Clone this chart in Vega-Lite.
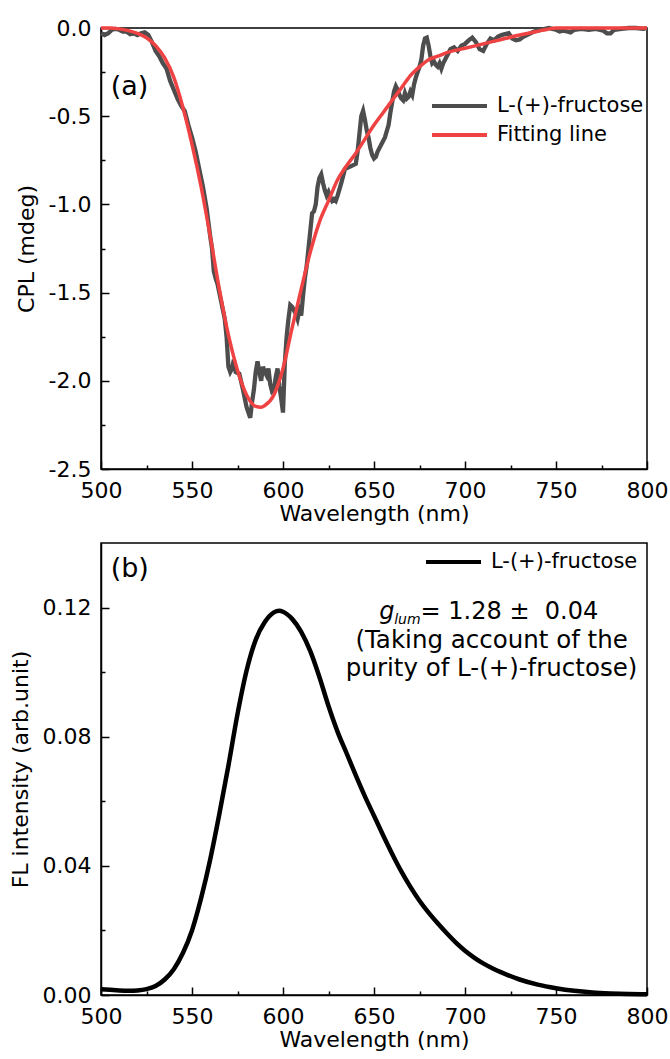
{
  "$schema": "https://vega.github.io/schema/vega-lite/v6.json",
  "background": "white",
  "padding": {"left": 8, "top": 16, "right": 0, "bottom": 0},
  "spacing": 17,
  "config": {
    "font": "DejaVu Sans",
    "view": {"stroke": "black", "strokeWidth": 1.5},
    "axis": {"domainColor": "black", "domainWidth": 1.5, "tickColor": "black", "tickWidth": 1.5, "labelColor": "black", "labelFont": "DejaVu Sans", "labelFontSize": 22, "titleFont": "DejaVu Sans", "titleFontSize": 22, "titleFontWeight": "normal", "titleColor": "black", "grid": false, "labelFlush": false, "labelOverlap": false, "labelBound": false},
    "legend": {"labelFont": "DejaVu Sans", "labelFontSize": 21, "labelColor": "black", "symbolType": "M-2.5,0H2.5", "symbolSize": 484, "symbolStrokeWidth": 4, "labelOffset": 24.5, "padding": 0, "rowPadding": 6}
  },
  "datasets": {
    "meas": [
      {"wl":500,"cpl":-0.03,"series":"L-(+)-fructose"},{"wl":502,"cpl":-0.04,"series":"L-(+)-fructose"},{"wl":504,"cpl":-0.03,"series":"L-(+)-fructose"},{"wl":506,"cpl":-0.01,"series":"L-(+)-fructose"},{"wl":508,"cpl":-0.005,"series":"L-(+)-fructose"},{"wl":510,"cpl":-0.01,"series":"L-(+)-fructose"},{"wl":512,"cpl":-0.02,"series":"L-(+)-fructose"},{"wl":514,"cpl":-0.02,"series":"L-(+)-fructose"},{"wl":516,"cpl":-0.035,"series":"L-(+)-fructose"},{"wl":518,"cpl":-0.03,"series":"L-(+)-fructose"},{"wl":520,"cpl":-0.04,"series":"L-(+)-fructose"},{"wl":522,"cpl":-0.03,"series":"L-(+)-fructose"},{"wl":524,"cpl":-0.025,"series":"L-(+)-fructose"},{"wl":526,"cpl":-0.04,"series":"L-(+)-fructose"},{"wl":528,"cpl":-0.08,"series":"L-(+)-fructose"},{"wl":530,"cpl":-0.13,"series":"L-(+)-fructose"},{"wl":532,"cpl":-0.16,"series":"L-(+)-fructose"},{"wl":534,"cpl":-0.2,"series":"L-(+)-fructose"},{"wl":536,"cpl":-0.23,"series":"L-(+)-fructose"},{"wl":538,"cpl":-0.3,"series":"L-(+)-fructose"},{"wl":540,"cpl":-0.35,"series":"L-(+)-fructose"},{"wl":542,"cpl":-0.4,"series":"L-(+)-fructose"},{"wl":544,"cpl":-0.44,"series":"L-(+)-fructose"},{"wl":546,"cpl":-0.47,"series":"L-(+)-fructose"},{"wl":548,"cpl":-0.55,"series":"L-(+)-fructose"},{"wl":550,"cpl":-0.62,"series":"L-(+)-fructose"},{"wl":552,"cpl":-0.7,"series":"L-(+)-fructose"},{"wl":554,"cpl":-0.8,"series":"L-(+)-fructose"},{"wl":556,"cpl":-0.9,"series":"L-(+)-fructose"},{"wl":558,"cpl":-1.02,"series":"L-(+)-fructose"},{"wl":560,"cpl":-1.18,"series":"L-(+)-fructose"},{"wl":561,"cpl":-1.25,"series":"L-(+)-fructose"},{"wl":562,"cpl":-1.38,"series":"L-(+)-fructose"},{"wl":563,"cpl":-1.42,"series":"L-(+)-fructose"},{"wl":564,"cpl":-1.45,"series":"L-(+)-fructose"},{"wl":566,"cpl":-1.55,"series":"L-(+)-fructose"},{"wl":568,"cpl":-1.65,"series":"L-(+)-fructose"},{"wl":569,"cpl":-1.75,"series":"L-(+)-fructose"},{"wl":570,"cpl":-1.92,"series":"L-(+)-fructose"},{"wl":571,"cpl":-1.95,"series":"L-(+)-fructose"},{"wl":572,"cpl":-1.93,"series":"L-(+)-fructose"},{"wl":573,"cpl":-1.88,"series":"L-(+)-fructose"},{"wl":574,"cpl":-1.95,"series":"L-(+)-fructose"},{"wl":576,"cpl":-1.96,"series":"L-(+)-fructose"},{"wl":578,"cpl":-2.05,"series":"L-(+)-fructose"},{"wl":580,"cpl":-2.15,"series":"L-(+)-fructose"},{"wl":581,"cpl":-2.18,"series":"L-(+)-fructose"},{"wl":582,"cpl":-2.21,"series":"L-(+)-fructose"},{"wl":583,"cpl":-2.12,"series":"L-(+)-fructose"},{"wl":584,"cpl":-2.05,"series":"L-(+)-fructose"},{"wl":585,"cpl":-1.95,"series":"L-(+)-fructose"},{"wl":586,"cpl":-1.89,"series":"L-(+)-fructose"},{"wl":587,"cpl":-1.95,"series":"L-(+)-fructose"},{"wl":588,"cpl":-2.0,"series":"L-(+)-fructose"},{"wl":589,"cpl":-1.92,"series":"L-(+)-fructose"},{"wl":590,"cpl":-1.95,"series":"L-(+)-fructose"},{"wl":591,"cpl":-1.97,"series":"L-(+)-fructose"},{"wl":592,"cpl":-1.93,"series":"L-(+)-fructose"},{"wl":593,"cpl":-2.02,"series":"L-(+)-fructose"},{"wl":594,"cpl":-2.06,"series":"L-(+)-fructose"},{"wl":595,"cpl":-2.05,"series":"L-(+)-fructose"},{"wl":596,"cpl":-1.98,"series":"L-(+)-fructose"},{"wl":597,"cpl":-1.93,"series":"L-(+)-fructose"},{"wl":598,"cpl":-2.03,"series":"L-(+)-fructose"},{"wl":599,"cpl":-2.1,"series":"L-(+)-fructose"},{"wl":600,"cpl":-2.18,"series":"L-(+)-fructose"},{"wl":601,"cpl":-1.9,"series":"L-(+)-fructose"},{"wl":602,"cpl":-1.75,"series":"L-(+)-fructose"},{"wl":603,"cpl":-1.65,"series":"L-(+)-fructose"},{"wl":604,"cpl":-1.57,"series":"L-(+)-fructose"},{"wl":605,"cpl":-1.58,"series":"L-(+)-fructose"},{"wl":606,"cpl":-1.6,"series":"L-(+)-fructose"},{"wl":607,"cpl":-1.62,"series":"L-(+)-fructose"},{"wl":608,"cpl":-1.65,"series":"L-(+)-fructose"},{"wl":609,"cpl":-1.6,"series":"L-(+)-fructose"},{"wl":610,"cpl":-1.63,"series":"L-(+)-fructose"},{"wl":611,"cpl":-1.52,"series":"L-(+)-fructose"},{"wl":612,"cpl":-1.42,"series":"L-(+)-fructose"},{"wl":613,"cpl":-1.35,"series":"L-(+)-fructose"},{"wl":614,"cpl":-1.25,"series":"L-(+)-fructose"},{"wl":615,"cpl":-1.15,"series":"L-(+)-fructose"},{"wl":616,"cpl":-1.05,"series":"L-(+)-fructose"},{"wl":617,"cpl":-1.04,"series":"L-(+)-fructose"},{"wl":618,"cpl":-1.0,"series":"L-(+)-fructose"},{"wl":619,"cpl":-0.9,"series":"L-(+)-fructose"},{"wl":620,"cpl":-0.85,"series":"L-(+)-fructose"},{"wl":621,"cpl":-0.83,"series":"L-(+)-fructose"},{"wl":622,"cpl":-0.88,"series":"L-(+)-fructose"},{"wl":623,"cpl":-0.92,"series":"L-(+)-fructose"},{"wl":624,"cpl":-0.95,"series":"L-(+)-fructose"},{"wl":625,"cpl":-0.93,"series":"L-(+)-fructose"},{"wl":626,"cpl":-0.96,"series":"L-(+)-fructose"},{"wl":627,"cpl":-0.98,"series":"L-(+)-fructose"},{"wl":628,"cpl":-0.97,"series":"L-(+)-fructose"},{"wl":629,"cpl":-0.98,"series":"L-(+)-fructose"},{"wl":630,"cpl":-0.95,"series":"L-(+)-fructose"},{"wl":632,"cpl":-0.88,"series":"L-(+)-fructose"},{"wl":634,"cpl":-0.8,"series":"L-(+)-fructose"},{"wl":636,"cpl":-0.79,"series":"L-(+)-fructose"},{"wl":638,"cpl":-0.78,"series":"L-(+)-fructose"},{"wl":640,"cpl":-0.77,"series":"L-(+)-fructose"},{"wl":641,"cpl":-0.7,"series":"L-(+)-fructose"},{"wl":642,"cpl":-0.6,"series":"L-(+)-fructose"},{"wl":643,"cpl":-0.5,"series":"L-(+)-fructose"},{"wl":644,"cpl":-0.47,"series":"L-(+)-fructose"},{"wl":645,"cpl":-0.52,"series":"L-(+)-fructose"},{"wl":646,"cpl":-0.58,"series":"L-(+)-fructose"},{"wl":647,"cpl":-0.62,"series":"L-(+)-fructose"},{"wl":648,"cpl":-0.68,"series":"L-(+)-fructose"},{"wl":649,"cpl":-0.72,"series":"L-(+)-fructose"},{"wl":650,"cpl":-0.74,"series":"L-(+)-fructose"},{"wl":651,"cpl":-0.73,"series":"L-(+)-fructose"},{"wl":652,"cpl":-0.7,"series":"L-(+)-fructose"},{"wl":654,"cpl":-0.66,"series":"L-(+)-fructose"},{"wl":656,"cpl":-0.62,"series":"L-(+)-fructose"},{"wl":658,"cpl":-0.55,"series":"L-(+)-fructose"},{"wl":659,"cpl":-0.48,"series":"L-(+)-fructose"},{"wl":660,"cpl":-0.42,"series":"L-(+)-fructose"},{"wl":661,"cpl":-0.36,"series":"L-(+)-fructose"},{"wl":662,"cpl":-0.33,"series":"L-(+)-fructose"},{"wl":663,"cpl":-0.35,"series":"L-(+)-fructose"},{"wl":664,"cpl":-0.38,"series":"L-(+)-fructose"},{"wl":665,"cpl":-0.4,"series":"L-(+)-fructose"},{"wl":666,"cpl":-0.41,"series":"L-(+)-fructose"},{"wl":667,"cpl":-0.37,"series":"L-(+)-fructose"},{"wl":668,"cpl":-0.4,"series":"L-(+)-fructose"},{"wl":669,"cpl":-0.39,"series":"L-(+)-fructose"},{"wl":670,"cpl":-0.36,"series":"L-(+)-fructose"},{"wl":671,"cpl":-0.38,"series":"L-(+)-fructose"},{"wl":672,"cpl":-0.32,"series":"L-(+)-fructose"},{"wl":673,"cpl":-0.28,"series":"L-(+)-fructose"},{"wl":674,"cpl":-0.25,"series":"L-(+)-fructose"},{"wl":675,"cpl":-0.22,"series":"L-(+)-fructose"},{"wl":676,"cpl":-0.18,"series":"L-(+)-fructose"},{"wl":677,"cpl":-0.1,"series":"L-(+)-fructose"},{"wl":678,"cpl":-0.06,"series":"L-(+)-fructose"},{"wl":679,"cpl":-0.055,"series":"L-(+)-fructose"},{"wl":680,"cpl":-0.1,"series":"L-(+)-fructose"},{"wl":681,"cpl":-0.16,"series":"L-(+)-fructose"},{"wl":682,"cpl":-0.2,"series":"L-(+)-fructose"},{"wl":683,"cpl":-0.19,"series":"L-(+)-fructose"},{"wl":684,"cpl":-0.21,"series":"L-(+)-fructose"},{"wl":685,"cpl":-0.22,"series":"L-(+)-fructose"},{"wl":686,"cpl":-0.2,"series":"L-(+)-fructose"},{"wl":687,"cpl":-0.23,"series":"L-(+)-fructose"},{"wl":688,"cpl":-0.2,"series":"L-(+)-fructose"},{"wl":690,"cpl":-0.16,"series":"L-(+)-fructose"},{"wl":692,"cpl":-0.12,"series":"L-(+)-fructose"},{"wl":694,"cpl":-0.11,"series":"L-(+)-fructose"},{"wl":696,"cpl":-0.13,"series":"L-(+)-fructose"},{"wl":698,"cpl":-0.1,"series":"L-(+)-fructose"},{"wl":700,"cpl":-0.09,"series":"L-(+)-fructose"},{"wl":702,"cpl":-0.07,"series":"L-(+)-fructose"},{"wl":704,"cpl":-0.055,"series":"L-(+)-fructose"},{"wl":706,"cpl":-0.08,"series":"L-(+)-fructose"},{"wl":708,"cpl":-0.12,"series":"L-(+)-fructose"},{"wl":710,"cpl":-0.13,"series":"L-(+)-fructose"},{"wl":712,"cpl":-0.09,"series":"L-(+)-fructose"},{"wl":714,"cpl":-0.06,"series":"L-(+)-fructose"},{"wl":716,"cpl":-0.07,"series":"L-(+)-fructose"},{"wl":718,"cpl":-0.05,"series":"L-(+)-fructose"},{"wl":720,"cpl":-0.04,"series":"L-(+)-fructose"},{"wl":722,"cpl":-0.035,"series":"L-(+)-fructose"},{"wl":724,"cpl":-0.03,"series":"L-(+)-fructose"},{"wl":726,"cpl":-0.06,"series":"L-(+)-fructose"},{"wl":728,"cpl":-0.07,"series":"L-(+)-fructose"},{"wl":730,"cpl":-0.065,"series":"L-(+)-fructose"},{"wl":732,"cpl":-0.05,"series":"L-(+)-fructose"},{"wl":734,"cpl":-0.04,"series":"L-(+)-fructose"},{"wl":736,"cpl":-0.03,"series":"L-(+)-fructose"},{"wl":738,"cpl":-0.02,"series":"L-(+)-fructose"},{"wl":740,"cpl":-0.015,"series":"L-(+)-fructose"},{"wl":742,"cpl":-0.01,"series":"L-(+)-fructose"},{"wl":744,"cpl":-0.005,"series":"L-(+)-fructose"},{"wl":746,"cpl":0.0,"series":"L-(+)-fructose"},{"wl":748,"cpl":-0.005,"series":"L-(+)-fructose"},{"wl":750,"cpl":-0.01,"series":"L-(+)-fructose"},{"wl":752,"cpl":-0.02,"series":"L-(+)-fructose"},{"wl":754,"cpl":-0.015,"series":"L-(+)-fructose"},{"wl":756,"cpl":-0.02,"series":"L-(+)-fructose"},{"wl":758,"cpl":-0.025,"series":"L-(+)-fructose"},{"wl":760,"cpl":-0.01,"series":"L-(+)-fructose"},{"wl":764,"cpl":-0.005,"series":"L-(+)-fructose"},{"wl":768,"cpl":-0.01,"series":"L-(+)-fructose"},{"wl":772,"cpl":-0.005,"series":"L-(+)-fructose"},{"wl":776,"cpl":-0.015,"series":"L-(+)-fructose"},{"wl":778,"cpl":-0.03,"series":"L-(+)-fructose"},{"wl":780,"cpl":-0.03,"series":"L-(+)-fructose"},{"wl":782,"cpl":-0.01,"series":"L-(+)-fructose"},{"wl":786,"cpl":-0.005,"series":"L-(+)-fructose"},{"wl":790,"cpl":0.0,"series":"L-(+)-fructose"},{"wl":794,"cpl":0.0,"series":"L-(+)-fructose"},{"wl":798,"cpl":-0.005,"series":"L-(+)-fructose"},{"wl":800,"cpl":0.0,"series":"L-(+)-fructose"}
    ],
    "fit": [
      {"wl":500,"cpl":0.0,"series":"Fitting line"},{"wl":505,"cpl":0.0,"series":"Fitting line"},{"wl":510,"cpl":-0.005,"series":"Fitting line"},{"wl":515,"cpl":-0.015,"series":"Fitting line"},{"wl":520,"cpl":-0.03,"series":"Fitting line"},{"wl":525,"cpl":-0.055,"series":"Fitting line"},{"wl":530,"cpl":-0.1,"series":"Fitting line"},{"wl":535,"cpl":-0.17,"series":"Fitting line"},{"wl":540,"cpl":-0.28,"series":"Fitting line"},{"wl":545,"cpl":-0.45,"series":"Fitting line"},{"wl":550,"cpl":-0.66,"series":"Fitting line"},{"wl":555,"cpl":-0.9,"series":"Fitting line"},{"wl":560,"cpl":-1.18,"series":"Fitting line"},{"wl":565,"cpl":-1.48,"series":"Fitting line"},{"wl":570,"cpl":-1.74,"series":"Fitting line"},{"wl":575,"cpl":-1.94,"series":"Fitting line"},{"wl":580,"cpl":-2.08,"series":"Fitting line"},{"wl":585,"cpl":-2.145,"series":"Fitting line"},{"wl":588,"cpl":-2.15,"series":"Fitting line"},{"wl":590,"cpl":-2.14,"series":"Fitting line"},{"wl":595,"cpl":-2.08,"series":"Fitting line"},{"wl":600,"cpl":-1.93,"series":"Fitting line"},{"wl":605,"cpl":-1.7,"series":"Fitting line"},{"wl":610,"cpl":-1.48,"series":"Fitting line"},{"wl":615,"cpl":-1.27,"series":"Fitting line"},{"wl":620,"cpl":-1.1,"series":"Fitting line"},{"wl":625,"cpl":-0.98,"series":"Fitting line"},{"wl":630,"cpl":-0.86,"series":"Fitting line"},{"wl":635,"cpl":-0.78,"series":"Fitting line"},{"wl":640,"cpl":-0.71,"series":"Fitting line"},{"wl":645,"cpl":-0.63,"series":"Fitting line"},{"wl":650,"cpl":-0.55,"series":"Fitting line"},{"wl":655,"cpl":-0.48,"series":"Fitting line"},{"wl":660,"cpl":-0.41,"series":"Fitting line"},{"wl":665,"cpl":-0.34,"series":"Fitting line"},{"wl":670,"cpl":-0.27,"series":"Fitting line"},{"wl":675,"cpl":-0.22,"series":"Fitting line"},{"wl":680,"cpl":-0.18,"series":"Fitting line"},{"wl":685,"cpl":-0.16,"series":"Fitting line"},{"wl":690,"cpl":-0.14,"series":"Fitting line"},{"wl":700,"cpl":-0.115,"series":"Fitting line"},{"wl":710,"cpl":-0.09,"series":"Fitting line"},{"wl":720,"cpl":-0.065,"series":"Fitting line"},{"wl":730,"cpl":-0.04,"series":"Fitting line"},{"wl":740,"cpl":-0.018,"series":"Fitting line"},{"wl":745,"cpl":-0.008,"series":"Fitting line"},{"wl":750,"cpl":0.0,"series":"Fitting line"},{"wl":800,"cpl":0.0,"series":"Fitting line"}
    ],
    "fl": [
      {"wl":500,"fl":0.0018,"series":"L-(+)-fructose"},{"wl":505,"fl":0.0016,"series":"L-(+)-fructose"},{"wl":510,"fl":0.0014,"series":"L-(+)-fructose"},{"wl":515,"fl":0.0013,"series":"L-(+)-fructose"},{"wl":520,"fl":0.0014,"series":"L-(+)-fructose"},{"wl":525,"fl":0.0018,"series":"L-(+)-fructose"},{"wl":530,"fl":0.0028,"series":"L-(+)-fructose"},{"wl":535,"fl":0.0048,"series":"L-(+)-fructose"},{"wl":540,"fl":0.008,"series":"L-(+)-fructose"},{"wl":545,"fl":0.013,"series":"L-(+)-fructose"},{"wl":550,"fl":0.02,"series":"L-(+)-fructose"},{"wl":555,"fl":0.03,"series":"L-(+)-fructose"},{"wl":560,"fl":0.042,"series":"L-(+)-fructose"},{"wl":565,"fl":0.056,"series":"L-(+)-fructose"},{"wl":570,"fl":0.071,"series":"L-(+)-fructose"},{"wl":575,"fl":0.087,"series":"L-(+)-fructose"},{"wl":580,"fl":0.1005,"series":"L-(+)-fructose"},{"wl":585,"fl":0.11,"series":"L-(+)-fructose"},{"wl":590,"fl":0.1155,"series":"L-(+)-fructose"},{"wl":595,"fl":0.1185,"series":"L-(+)-fructose"},{"wl":598,"fl":0.119,"series":"L-(+)-fructose"},{"wl":600,"fl":0.1187,"series":"L-(+)-fructose"},{"wl":605,"fl":0.1165,"series":"L-(+)-fructose"},{"wl":610,"fl":0.1125,"series":"L-(+)-fructose"},{"wl":615,"fl":0.1065,"series":"L-(+)-fructose"},{"wl":620,"fl":0.0985,"series":"L-(+)-fructose"},{"wl":625,"fl":0.0895,"series":"L-(+)-fructose"},{"wl":630,"fl":0.0815,"series":"L-(+)-fructose"},{"wl":635,"fl":0.0748,"series":"L-(+)-fructose"},{"wl":640,"fl":0.068,"series":"L-(+)-fructose"},{"wl":645,"fl":0.0615,"series":"L-(+)-fructose"},{"wl":650,"fl":0.0555,"series":"L-(+)-fructose"},{"wl":655,"fl":0.0495,"series":"L-(+)-fructose"},{"wl":660,"fl":0.0437,"series":"L-(+)-fructose"},{"wl":665,"fl":0.0383,"series":"L-(+)-fructose"},{"wl":670,"fl":0.0335,"series":"L-(+)-fructose"},{"wl":675,"fl":0.0292,"series":"L-(+)-fructose"},{"wl":680,"fl":0.0255,"series":"L-(+)-fructose"},{"wl":685,"fl":0.0222,"series":"L-(+)-fructose"},{"wl":690,"fl":0.0191,"series":"L-(+)-fructose"},{"wl":695,"fl":0.0162,"series":"L-(+)-fructose"},{"wl":700,"fl":0.0137,"series":"L-(+)-fructose"},{"wl":705,"fl":0.0116,"series":"L-(+)-fructose"},{"wl":710,"fl":0.0098,"series":"L-(+)-fructose"},{"wl":715,"fl":0.0083,"series":"L-(+)-fructose"},{"wl":720,"fl":0.007,"series":"L-(+)-fructose"},{"wl":730,"fl":0.0048,"series":"L-(+)-fructose"},{"wl":740,"fl":0.0032,"series":"L-(+)-fructose"},{"wl":750,"fl":0.0021,"series":"L-(+)-fructose"},{"wl":760,"fl":0.0013,"series":"L-(+)-fructose"},{"wl":770,"fl":0.0008,"series":"L-(+)-fructose"},{"wl":780,"fl":0.0005,"series":"L-(+)-fructose"},{"wl":790,"fl":0.0003,"series":"L-(+)-fructose"},{"wl":800,"fl":0.0002,"series":"L-(+)-fructose"}
    ]
  },
  "resolve": {"scale": {"x": "independent", "y": "independent", "color": "independent"}},
  "vconcat": [
    {
      "width": 546,
      "height": 441,
      "layer": [
        {
          "data": {"name": "meas"},
          "mark": {"type": "line", "strokeWidth": 4.3},
          "encoding": {
            "x": {"field": "wl", "type": "quantitative", "scale": {"domain": [500, 800], "nice": false, "zero": false},
                  "axis": {"values": [500, 550, 600, 650, 700, 750, 800], "tickSize": -8, "labelPadding": 19, "title": "Wavelength (nm)", "titlePadding": 2}},
            "y": {"field": "cpl", "type": "quantitative", "scale": {"domain": [-2.5, 0], "nice": false, "zero": false},
                  "axis": {"values": [-2.5, -2, -1.5, -1, -0.5, 0], "labelExpr": "replace(format(datum.value, '.1f'), '\u2212', '-')", "tickSize": -8, "labelPadding": 18, "title": "CPL (mdeg)", "titlePadding": 10}},
            "color": {"field": "series", "type": "nominal", "scale": {"domain": ["L-(+)-fructose", "Fitting line"], "range": ["#4d4d4d", "#ef4242"]},
                      "legend": {"title": null, "orient": "none", "legendX": 345.5, "legendY": 65}}
          }
        },
        {
          "data": {"name": "fit"},
          "mark": {"type": "line", "strokeWidth": 3.5, "interpolate": "monotone"},
          "encoding": {
            "x": {"field": "wl", "type": "quantitative", "axis": {"orient": "bottom", "values": [525, 575, 625, 675, 725, 775], "tickSize": -4, "labels": false, "domain": false, "title": null}},
            "y": {"field": "cpl", "type": "quantitative", "axis": {"orient": "left", "values": [-2.25, -1.75, -1.25, -0.75, -0.25], "tickSize": -4, "labels": false, "domain": false, "title": null}},
            "color": {"field": "series", "type": "nominal", "legend": {"title": null, "orient": "none", "legendX": 345.5, "legendY": 65}}
          }
        },
        {
          "data": {"values": [{"t": "(a)"}]},
          "mark": {"type": "text", "align": "left", "baseline": "middle", "fontSize": 27, "color": "black"},
          "encoding": {
            "x": {"datum": 505.3, "type": "quantitative", "axis": null},
            "y": {"datum": -0.334, "type": "quantitative", "axis": null},
            "text": {"field": "t"}
          }
        }
      ],
      "resolve": {"axis": {"x": "independent", "y": "independent"}}
    },
    {
      "width": 546,
      "height": 452,
      "layer": [
        {
          "data": {"name": "fl"},
          "mark": {"type": "line", "strokeWidth": 4.5, "interpolate": "monotone"},
          "encoding": {
            "x": {"field": "wl", "type": "quantitative", "scale": {"domain": [500, 800], "nice": false, "zero": false},
                  "axis": {"values": [500, 550, 600, 650, 700, 750, 800], "tickSize": -8, "labelPadding": 19, "title": "Wavelength (nm)", "titlePadding": 2}},
            "y": {"field": "fl", "type": "quantitative", "scale": {"domain": [0, 0.14], "nice": false, "zero": false},
                  "axis": {"values": [0, 0.04, 0.08, 0.12], "format": ".2f", "tickSize": -8, "labelPadding": 18, "title": "FL intensity (arb.unit)", "titlePadding": 10}},
            "color": {"field": "series", "type": "nominal", "scale": {"domain": ["L-(+)-fructose"], "range": ["black"]},
                      "legend": {"title": null, "orient": "none", "legendX": 339.5, "legendY": 6}}
          }
        },
        {
          "data": {"name": "fl"},
          "mark": {"type": "line", "opacity": 0},
          "encoding": {
            "x": {"field": "wl", "type": "quantitative", "axis": {"orient": "bottom", "values": [525, 575, 625, 675, 725, 775], "tickSize": -4, "labels": false, "domain": false, "title": null}},
            "y": {"field": "fl", "type": "quantitative", "axis": {"orient": "left", "values": [0.02, 0.06, 0.1], "tickSize": -4, "labels": false, "domain": false, "title": null}}
          }
        },
        {
          "data": {"values": [{"t": "(b)"}]},
          "mark": {"type": "text", "align": "left", "baseline": "middle", "fontSize": 27, "color": "black"},
          "encoding": {
            "x": {"datum": 505.3, "type": "quantitative", "axis": null},
            "y": {"datum": 0.1318, "type": "quantitative", "axis": null},
            "text": {"field": "t"}
          }
        },
        {
          "data": {"values": [{"t": "g"}]},
          "mark": {"type": "text", "align": "right", "baseline": "alphabetic", "fontSize": 24, "fontStyle": "italic", "dx": -26, "color": "black"},
          "encoding": {
            "x": {"datum": 675.6, "type": "quantitative", "axis": null},
            "y": {"datum": 0.1166, "type": "quantitative", "axis": null},
            "text": {"field": "t"}
          }
        },
        {
          "data": {"values": [{"t": "lum"}]},
          "mark": {"type": "text", "align": "right", "baseline": "alphabetic", "fontSize": 14, "fontStyle": "italic", "dy": 5, "color": "black"},
          "encoding": {
            "x": {"datum": 675.6, "type": "quantitative", "axis": null},
            "y": {"datum": 0.1166, "type": "quantitative", "axis": null},
            "text": {"field": "t"}
          }
        },
        {
          "data": {"values": [{"t": "= 1.28 ±\u00a0 0.04"}]},
          "mark": {"type": "text", "align": "left", "baseline": "alphabetic", "fontSize": 24, "color": "black"},
          "encoding": {
            "x": {"datum": 675.6, "type": "quantitative", "axis": null},
            "y": {"datum": 0.1166, "type": "quantitative", "axis": null},
            "text": {"field": "t"}
          }
        },
        {
          "data": {"values": [{"t": "(Taking account of the\npurity of L-(+)-fructose)"}]},
          "mark": {"type": "text", "align": "center", "baseline": "alphabetic", "fontSize": 24.5, "lineBreak": "\n", "lineHeight": 28, "color": "black"},
          "encoding": {
            "x": {"datum": 714.6, "type": "quantitative", "axis": null},
            "y": {"datum": 0.1076, "type": "quantitative", "axis": null},
            "text": {"field": "t"}
          }
        }
      ],
      "resolve": {"axis": {"x": "independent", "y": "independent"}}
    }
  ]
}
